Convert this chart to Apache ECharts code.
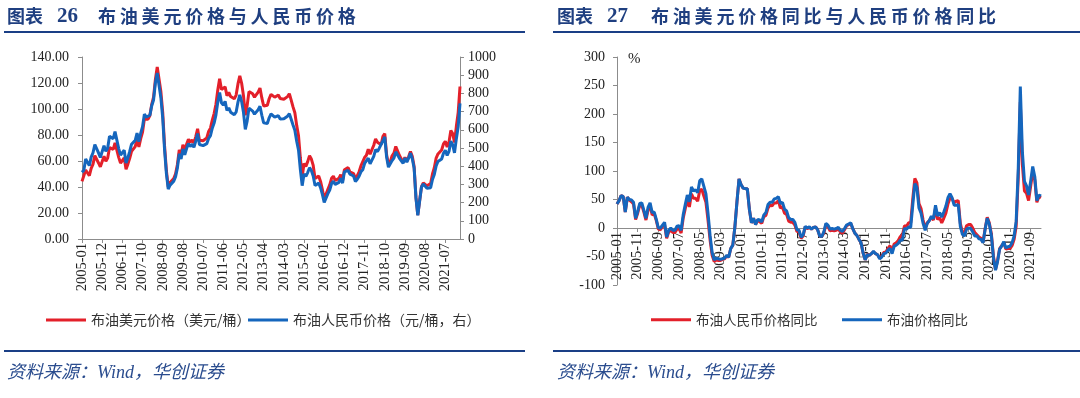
<!DOCTYPE html>
<html>
<head>
<meta charset="utf-8">
<script src="https://cdn.jsdelivr.net/npm/echarts@6/dist/echarts.min.js"></script>
<style>
body{margin:0;background:#fff;}
#wrap{position:relative;width:1080px;height:398px;overflow:hidden;}
#chart{position:absolute;left:0;top:0;width:1080px;height:398px;}
.t{position:absolute;white-space:nowrap;color:#1f3f80;line-height:20px;}
.cn{font-family:"Noto Sans CJK SC";font-weight:700;font-size:18px;}
.num{font-family:"Liberation Serif";font-weight:700;font-size:21px;}
.rule{position:absolute;height:2px;background:#1a3f86;}
.src{position:absolute;top:361px;white-space:nowrap;font-family:"Liberation Serif","Noto Sans CJK SC";font-style:italic;font-size:18px;color:#2a4c8e;line-height:22px;}
</style>
</head>
<body>
<div id="wrap">
  <div id="chart"></div>
  <!-- 标题 -->
  <div class="t cn" style="left:7px;top:5px;">图表</div>
  <div class="t num" style="left:57px;top:5px;">26</div>
  <div class="t cn" style="left:98px;top:5px;letter-spacing:3.8px;">布油美元价格与人民币价格</div>
  <div class="t cn" style="left:557px;top:5px;">图表</div>
  <div class="t num" style="left:607px;top:5px;">27</div>
  <div class="t cn" style="left:651px;top:5px;letter-spacing:3.8px;">布油美元价格同比与人民币价格同比</div>
  <div class="rule" style="left:4px;width:521px;top:31px;"></div>
  <div class="rule" style="left:553px;width:527px;top:31px;"></div>
  <div class="rule" style="left:4px;width:521px;top:350px;"></div>
  <div class="rule" style="left:553px;width:527px;top:350px;"></div>
  <div class="src" style="left:7px;">资料来源：Wind，华创证券</div>
  <div class="src" style="left:557px;">资料来源：Wind，华创证券</div>
</div>
<script>
// 月份
function monthRange(y0, m0, y1, m1) {
    var out = [];
    for (var y = y0, m = m0; y < y1 || (y === y1 && m <= m1); ) {
        out.push(y + '-' + (m < 10 ? '0' + m : m));
        m++;
        if (m > 12) { m = 1; y++; }
    }
    return out;
}
var monthsLeft = monthRange(2005, 1, 2022, 3);
var monthsRight = monthRange(2005, 1, 2022, 2);

// 布油美元价格（美元/桶）
var brentUsd = [
    44.3,45.6,53.1,51.9,48.7,54.3,57.6,64.1,63.0,58.5,55.5,56.8,
    63.6,59.9,62.3,70.4,70.2,68.9,73.9,73.6,62.8,58.4,58.5,62.4,
    53.7,57.6,62.1,67.5,67.2,71.1,76.9,70.8,77.2,82.3,92.4,90.9,
    92.2,95.0,103.6,109.1,122.8,132.3,132.7,113.2,97.2,71.6,52.5,40.0,
    43.4,43.3,46.5,50.2,57.3,68.6,64.4,72.5,67.7,72.8,76.7,74.5,
    76.2,73.8,78.8,84.8,76.0,74.8,75.6,77.0,77.8,82.7,85.3,91.5,
    96.5,103.7,114.6,123.3,115.0,113.8,117.0,110.2,112.8,109.6,110.8,107.9,
    110.7,119.3,125.5,119.8,110.3,95.2,102.6,113.4,112.9,111.7,109.1,109.5,
    113.0,116.1,108.5,102.3,102.6,102.9,107.9,111.3,111.6,109.1,107.8,110.8,
    108.1,108.9,107.5,107.8,109.5,111.8,106.8,101.6,97.1,87.4,79.4,62.3,
    47.8,58.1,55.9,59.5,64.1,61.5,56.6,46.5,47.6,48.4,44.3,38.0,
    30.7,32.2,38.2,41.6,46.7,48.3,45.0,45.8,46.6,49.5,44.7,53.3,
    54.6,54.9,51.6,52.3,50.3,46.4,48.5,51.7,56.2,57.5,62.7,64.4,
    69.1,65.3,66.0,72.1,77.0,74.4,74.3,72.5,78.9,81.0,64.8,57.4,
    59.4,64.0,66.1,71.2,71.3,64.2,63.9,59.0,62.8,59.7,63.2,67.3,
    63.7,55.7,32.0,18.4,29.4,40.3,43.2,44.7,40.9,40.2,42.7,50.0,
    54.8,62.3,65.4,64.8,68.5,73.2,75.2,70.8,74.5,83.5,81.1,74.2,
    86.5,97.1,117.3
];
// 布油人民币价格（元/桶）
var brentRmb = [
    367,378,440,430,403,450,474,519,510,473,448,458,
    513,482,500,564,562,551,590,587,497,461,460,488,
    418,446,481,521,515,542,582,535,581,617,686,670,
    668,680,732,764,858,912,908,775,664,490,359,274,
    296,296,318,343,391,469,440,495,462,497,524,509,
    520,504,538,579,519,509,513,523,524,552,568,609,
    637,682,753,805,748,736,756,706,721,697,704,683,
    698,752,792,755,696,602,648,719,715,703,686,689,
    710,729,680,638,636,635,666,687,689,670,662,678,
    659,666,661,664,675,688,658,626,597,537,488,381,
    293,357,344,365,392,376,346,294,303,307,282,245,
    201,211,249,269,305,318,300,305,311,334,307,369,
    377,377,356,360,346,316,328,345,369,380,415,424,
    444,413,417,454,491,480,499,497,540,561,450,395,
    403,431,444,479,489,443,440,416,445,422,444,472,
    441,389,225,130,209,285,302,309,279,270,282,327,
    355,402,426,423,440,471,487,459,481,537,518,473,
    550,616,745
];
// 布油人民币价格同比（%）
var yoyRmb = [
    42,48,57,55,28,54,49,46,42,15,26,40,
    40,28,14,31,39,23,25,13,-2,-3,3,6,
    -18,-7,-4,-8,-8,-2,-1,-9,17,34,49,37,
    60,52,52,47,66,68,56,45,14,-21,-48,-59,
    -56,-57,-57,-55,-54,-49,-51,-36,-30,2,46,86,
    76,70,69,69,33,9,17,6,13,11,8,20,
    22,35,40,39,44,44,48,35,37,26,24,12,
    10,10,5,-6,-7,-18,-14,2,-1,1,-2,1,
    2,-3,-14,-15,-9,6,3,-5,-4,-5,-4,-2,
    -7,-9,-3,4,6,8,-1,-9,-13,-20,-26,-44,
    -56,-46,-48,-45,-42,-45,-47,-53,-49,-43,-42,-36,
    -31,-41,-28,-26,-22,-15,-13,4,3,9,9,51,
    87,79,43,34,14,-1,9,13,19,14,35,15,
    18,9,17,26,42,52,52,44,47,48,8,-7,
    -9,4,6,6,0,-8,-12,-16,-18,-25,-1,19,
    9,-10,-49,-73,-57,-36,-31,-26,-37,-36,-36,-31,
    -20,3,89,221,111,65,61,48,73,99,84,45,
    55,53
];
// 布油价格同比（%）
var yoyUsd = [
    42,48,57,55,28,54,50,49,45,17,29,43,
    44,31,17,36,44,27,28,15,0,0,5,10,
    -16,-4,0,-4,-4,3,4,-4,23,41,58,46,
    72,65,67,62,83,86,73,60,26,-13,-43,-56,
    -53,-54,-55,-54,-53,-48,-51,-36,-30,2,46,86,
    76,70,69,69,33,9,17,6,15,14,11,23,
    27,41,45,45,51,52,55,43,45,33,30,18,
    15,15,10,-3,-4,-16,-12,3,0,2,-2,1,
    2,-3,-14,-15,-7,8,5,-2,-1,-2,-1,1,
    -4,-6,-1,5,7,9,-1,-9,-13,-20,-26,-44,
    -56,-47,-48,-45,-41,-45,-47,-54,-51,-45,-44,-39,
    -36,-45,-32,-30,-27,-21,-21,-1,-2,2,1,40,
    78,71,35,26,8,-4,8,13,21,16,40,21,
    27,19,28,38,53,60,53,40,40,41,3,-11,
    -14,-2,0,-1,-7,-14,-14,-19,-20,-26,-2,17,
    7,-13,-52,-74,-59,-37,-32,-24,-35,-33,-32,-26,
    -14,12,104,248,133,82,74,58,82,108,90,48,
    58,56
];

var RED = '#e3202a';
var BLUE = '#1566bd';
var axisGrey = '#8c8c8c';
var serif = 'Liberation Serif';
var cjk = 'Noto Sans CJK SC';

function catAxis(gridIndex, data, every, offset) {
    return {
        type: 'category',
        gridIndex: gridIndex,
        data: data,
        boundaryGap: false,
        position: 'bottom',
        offset: offset,
        axisLine: { onZero: false, lineStyle: { color: axisGrey, width: 1 } },
        axisTick: { show: true, interval: every - 1, length: 4, lineStyle: { color: axisGrey } },
        axisLabel: {
            interval: every - 1, rotate: 90, margin: 4,
            fontFamily: serif, fontSize: 14.5, color: '#222'
        },
        splitLine: { show: false }
    };
}
function valAxis(gridIndex, min, max, step, pos, fmt, margin) {
    return {
        type: 'value',
        gridIndex: gridIndex,
        position: pos,
        min: min, max: max, interval: step,
        axisLine: { show: true, lineStyle: { color: axisGrey, width: 1 } },
        axisTick: { show: true, length: 4, lineStyle: { color: axisGrey } },
        axisLabel: { formatter: fmt, margin: margin, fontFamily: serif, fontSize: 14, color: '#222' },
        splitLine: { show: false }
    };
}
function legendItem(name, left, size) {
    return {
        data: [name], left: left, top: 313, padding: 0,
        icon: 'rect', itemWidth: 40, itemHeight: 3, itemGap: 0,
        textStyle: { fontFamily: cjk, fontSize: size, color: '#333' }
    };
}
function lineSeries(name, data, color, xi, yi) {
    return {
        name: name, type: 'line', data: data,
        xAxisIndex: xi, yAxisIndex: yi,
        showSymbol: false, symbol: 'none',
        lineStyle: { color: color, width: 3 },
        itemStyle: { color: color }
    };
}
function plain(v) { return String(v); }

var chart = echarts.init(document.getElementById('chart'));
chart.setOption({
    animation: false,
    backgroundColor: 'transparent',
    grid: [
        { left: 82, top: 57, width: 378, height: 182 },
        { left: 617, top: 57, width: 424, height: 228 }
    ],
    xAxis: [
        catAxis(0, monthsLeft, 11, 0),
        // 右图横轴放在 0 线上
        catAxis(1, monthsRight, 10, -57)
    ],
    yAxis: [
        valAxis(0, 0, 140, 20, 'left', function (v) { return v.toFixed(2); }, 13),
        valAxis(0, 0, 1000, 100, 'right', plain, 8),
        valAxis(1, -100, 300, 50, 'left', plain, 12)
    ],
    legend: [
        legendItem('布油美元价格（美元/桶）', 46, 14),
        legendItem('布油人民币价格（元/桶，右）', 248, 14),
        legendItem('布油人民币价格同比', 651, 13.5),
        legendItem('布油价格同比', 842, 13.5)
    ],
    graphic: [
        { type: 'text', left: 628, top: 52, style: { text: '%', font: '15px "Liberation Serif"', fill: '#222' } }
    ],
    series: [
        lineSeries('布油美元价格（美元/桶）', brentUsd, RED, 0, 0),
        lineSeries('布油人民币价格（元/桶，右）', brentRmb, BLUE, 0, 1),
        lineSeries('布油人民币价格同比', yoyRmb, RED, 1, 2),
        lineSeries('布油价格同比', yoyUsd, BLUE, 1, 2)
    ]
});
</script>
</body>
</html>
